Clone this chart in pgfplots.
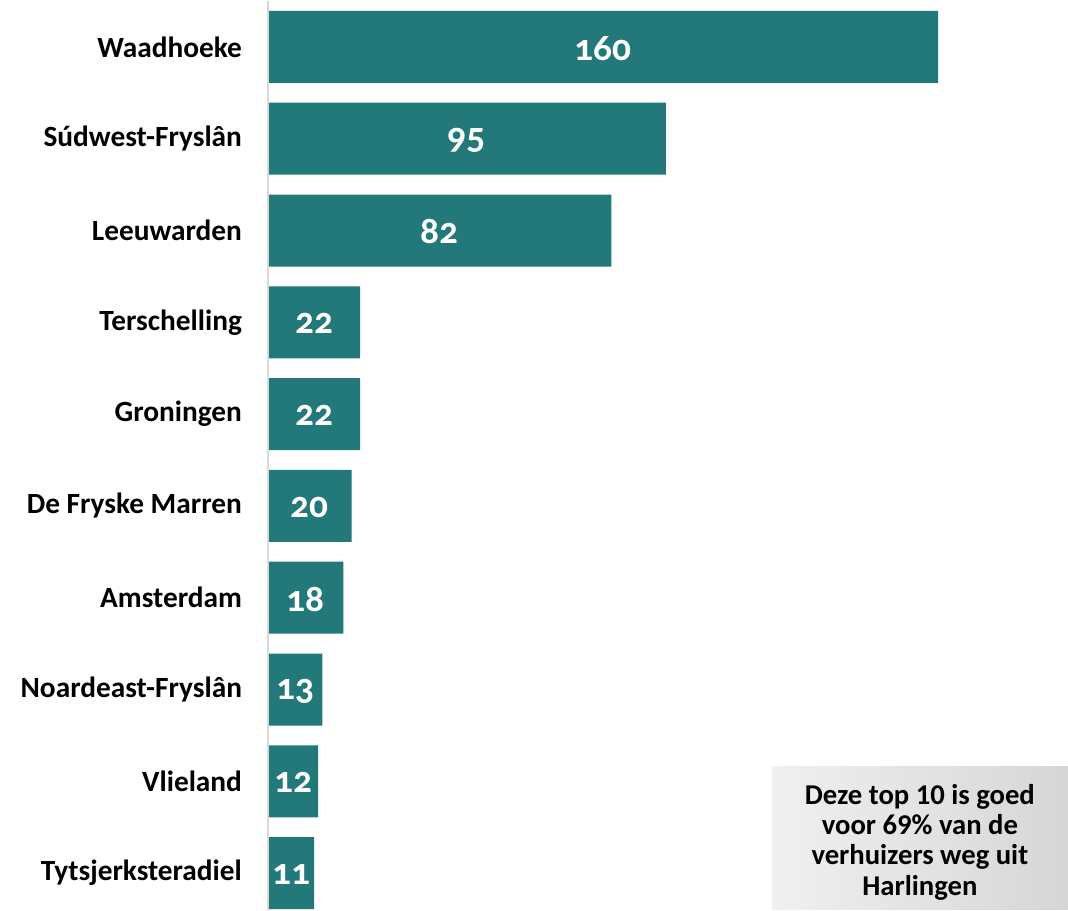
\documentclass[border=0pt]{standalone}
\usepackage{pgfplots}
\pgfplotsset{compat=1.18}
\usepackage{fontspec}
\setmainfont{Carlito}
\newfontfamily\numfont[Numbers=OldStyle]{Carlito}
\definecolor{barteal}{RGB}{35,120,121}
\definecolor{axisgrey}{RGB}{217,217,217}
\begin{document}
\begin{tikzpicture}
\begin{axis}[
  scale only axis, width=600pt, height=681.75pt,
  xbar stacked, bar width=54pt,
  xmin=0, xmax=191, ymin=-0.5, ymax=9.4, y dir=reverse,
  ytick={0,...,9},
  yticklabels={Waadhoeke,Súdwest-Fryslân,Leeuwarden,Terschelling,Groningen,De Fryske Marren,Amsterdam,Noardeast-Fryslân,Vlieland,Tytsjerksteradiel},
  yticklabel style={font=\bfseries\fontsize{22}{24}\selectfont, text=black, xshift=-16pt},
  xtick=\empty, major tick length=0pt,
  axis line style={draw=none},
  clip=false,
  nodes near coords={\pgfmathprintnumber[assume math mode=true]{\pgfplotspointmeta}},
  every node near coord/.append style={font=\numfont\bfseries\fontsize{28}{30}\selectfont, text=white, anchor=center, yshift=-1pt},
]
\draw[axisgrey, line width=1.5pt] (rel axis cs:0,0) -- (rel axis cs:0,1);
\addplot[fill=barteal, draw=none] coordinates {
  (160,0) (95,1) (82,2) (22,3) (22,4) (20,5) (18,6) (13,7) (12,8) (11,9)
};
\coordinate (boxsw) at (rel axis cs:0.63,0);
\coordinate (boxne) at (rel axis cs:1,0.158);
\coordinate (boxc) at (rel axis cs:0.815,0.079);
\end{axis}
\fill[left color=white!94!black, right color=white!84!black] (boxsw) rectangle (boxne);
\node[align=center, font=\bfseries\fontsize{21.5}{22.8}\selectfont, text=black, yshift=-3pt] at (boxc) {Deze top 10 is goed\\voor 69\% van de\\verhuizers weg uit\\Harlingen};
\path (current axis.south west) ++(-201pt,0) rectangle (current axis.north east);
\end{tikzpicture}
\end{document}
